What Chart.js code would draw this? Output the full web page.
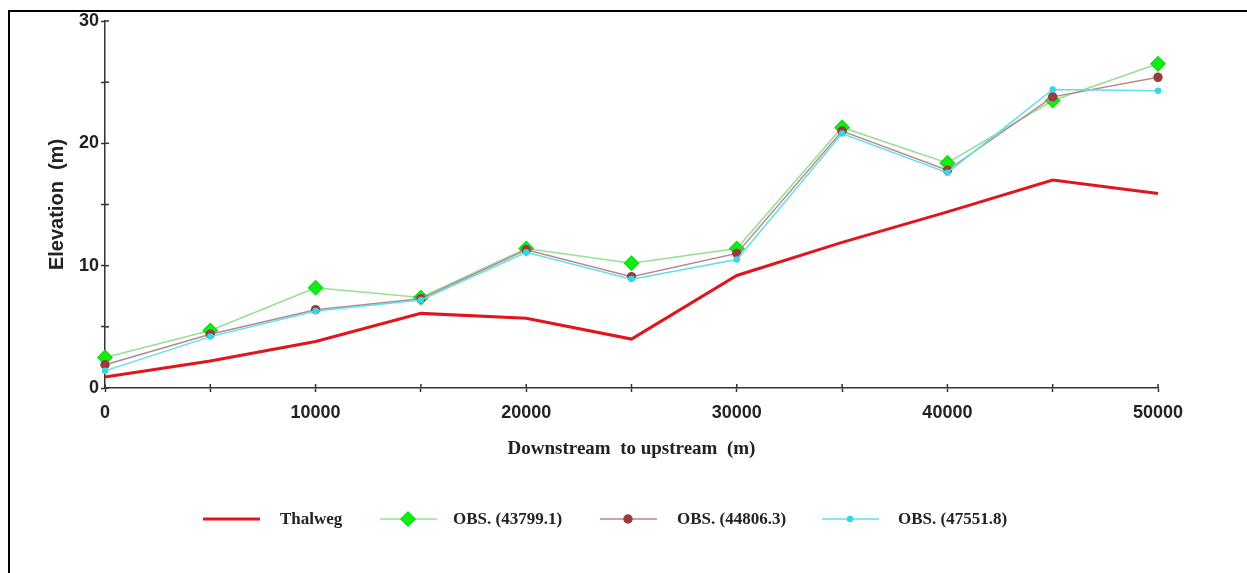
<!DOCTYPE html>
<html>
<head>
<meta charset="utf-8">
<script src="https://cdn.jsdelivr.net/npm/chart.js@4/dist/chart.umd.min.js"></script>
<style>
    body { margin: 0; background: #fff; }
    .frame { position: absolute; left: 8px; top: 10px; right: -4px; bottom: -4px; border-left: 2px solid #000; border-top: 2px solid #000; }
    #chart { position: absolute; left: 0; top: 0; }
</style>
</head>
<body>
<div class="frame"></div>
<canvas id="chart" width="1247" height="573"></canvas>
<script>
// Distance along the river (m)
const stations = [0, 5000, 10000, 15000, 20000, 25000, 30000, 35000, 40000, 45000, 50000];

// Elevations (m)
const thalweg = [0.9, 2.2, 3.8, 6.1, 5.7, 4.0, 9.2, 11.9, 14.4, 17.0, 15.9];
const obs43799 = [2.5, 4.7, 8.2, 7.4, 11.4, 10.2, 11.4, 21.3, 18.4, 23.5, 26.5];
const obs44806 = [1.9, 4.4, 6.4, 7.3, 11.3, 9.1, 11.0, 21.0, 17.8, 23.8, 25.4];
const obs47551 = [1.4, 4.2, 6.3, 7.2, 11.1, 8.9, 10.5, 20.8, 17.6, 24.4, 24.3];

const seriesNames = ['Thalweg', 'OBS. (43799.1)', 'OBS. (44806.3)', 'OBS. (47551.8)'];

const toPoints = (vals) => stations.map((x, i) => ({ x: x, y: vals[i] }));

// Ticks that cross the axis line (inner half)
const innerTicks = {
    id: 'innerTicks',
    afterDraw(chart) {
        const { ctx, chartArea, scales } = chart;
        ctx.save();
        ctx.strokeStyle = '#333';
        ctx.lineWidth = 1.5;
        scales.x.ticks.forEach(t => {
            const px = scales.x.getPixelForValue(t.value);
            ctx.beginPath();
            ctx.moveTo(px, chartArea.bottom);
            ctx.lineTo(px, chartArea.bottom - 4);
            ctx.stroke();
        });
        scales.y.ticks.forEach(t => {
            const py = scales.y.getPixelForValue(t.value);
            ctx.beginPath();
            ctx.moveTo(chartArea.left, py);
            ctx.lineTo(chartArea.left + 4, py);
            ctx.stroke();
        });
        ctx.restore();
    }
};

// Legend row under the chart: line sample with marker, then label
const bottomLegend = {
    id: 'bottomLegend',
    afterDraw(chart) {
        const ctx = chart.ctx;
        const y = 519;
        const items = [
            { ds: 0, x: 203, tx: 280 },
            { ds: 1, x: 380, tx: 453 },
            { ds: 2, x: 600, tx: 677 },
            { ds: 3, x: 822, tx: 898 }
        ];
        ctx.save();
        items.forEach(it => {
            const d = chart.data.datasets[it.ds];
            ctx.strokeStyle = d.borderColor;
            ctx.lineWidth = d.borderWidth;
            ctx.beginPath();
            ctx.moveTo(it.x, y);
            ctx.lineTo(it.x + 57, y);
            ctx.stroke();
            if (d.pointRadius > 0) {
                ctx.fillStyle = d.pointBackgroundColor;
                ctx.strokeStyle = d.pointBorderColor;
                Chart.helpers.drawPoint(ctx, {
                    pointStyle: d.pointStyle,
                    radius: d.pointRadius,
                    borderWidth: 1
                }, it.x + 28, y);
            }
            ctx.fillStyle = '#222';
            ctx.font = "bold 17px 'Liberation Serif', serif";
            ctx.textBaseline = 'middle';
            ctx.fillText(seriesNames[it.ds], it.tx, y + 1);
        });
        ctx.restore();
    }
};

const ctx = document.getElementById('chart');
Chart.defaults.font.family = "'Liberation Sans', Arial, sans-serif";

const chart = new Chart(ctx, {
    type: 'line',
    data: {
        datasets: [
            {
                label: seriesNames[0],
                data: toPoints(thalweg),
                borderColor: '#e0161c',
                borderWidth: 3,
                pointRadius: 0,
                clip: false,
                order: 3
            },
            {
                label: seriesNames[1],
                data: toPoints(obs43799),
                borderColor: '#95e095',
                borderWidth: 1.5,
                pointStyle: 'rectRot',
                pointRadius: 7,
                pointBackgroundColor: '#11ee11',
                pointBorderColor: '#11dd11',
                clip: false,
                order: 2
            },
            {
                label: seriesNames[2],
                data: toPoints(obs44806),
                borderColor: '#b8868c',
                borderWidth: 1.5,
                pointStyle: 'circle',
                pointRadius: 4,
                pointBackgroundColor: '#9b3a3f',
                pointBorderColor: '#9b3a3f',
                clip: false,
                order: 1
            },
            {
                label: seriesNames[3],
                data: toPoints(obs47551),
                borderColor: '#5fe0ea',
                borderWidth: 1.5,
                pointStyle: 'circle',
                pointRadius: 2.5,
                pointBackgroundColor: '#33d8e6',
                pointBorderColor: '#33d8e6',
                clip: false,
                order: 0
            }
        ]
    },
    options: {
        responsive: false,
        animation: false,
        layout: { padding: { left: 45, top: 21, right: 89, bottom: 109 } },
        plugins: {
            legend: { display: false },
            tooltip: { enabled: false }
        },
        scales: {
            x: {
                type: 'linear',
                min: 0,
                max: 50000,
                afterFit: (s) => { s.height = 76; },
                border: { color: '#333', width: 1.5 },
                grid: { drawOnChartArea: false, tickLength: 4, color: '#333', tickWidth: 1.5 },
                ticks: {
                    stepSize: 5000,
                    padding: 10,
                    color: '#222',
                    font: { size: 18, weight: 'bold' },
                    callback: (v) => v % 10000 === 0 ? String(v) : ''
                },
                title: {
                    display: true,
                    text: 'Downstream  to upstream  (m)',
                    color: '#222',
                    padding: { top: 8 },
                    font: { family: "'Liberation Serif', serif", size: 19, weight: 'bold' }
                }
            },
            y: {
                min: 0,
                max: 30,
                afterFit: (s) => { s.width = 60; },
                border: { color: '#333', width: 1.5 },
                grid: { drawOnChartArea: false, tickLength: 4, color: '#333', tickWidth: 1.5 },
                ticks: {
                    stepSize: 5,
                    padding: 2,
                    color: '#222',
                    font: { size: 18, weight: 'bold' },
                    callback: (v) => v % 10 === 0 ? String(v) : ''
                },
                title: {
                    display: true,
                    text: 'Elevation  (m)',
                    color: '#222',
                    padding: { top: 0, bottom: 0 },
                    font: { size: 20, weight: 'bold' }
                }
            }
        }
    },
    plugins: [innerTicks, bottomLegend]
});
</script>
</body>
</html>
